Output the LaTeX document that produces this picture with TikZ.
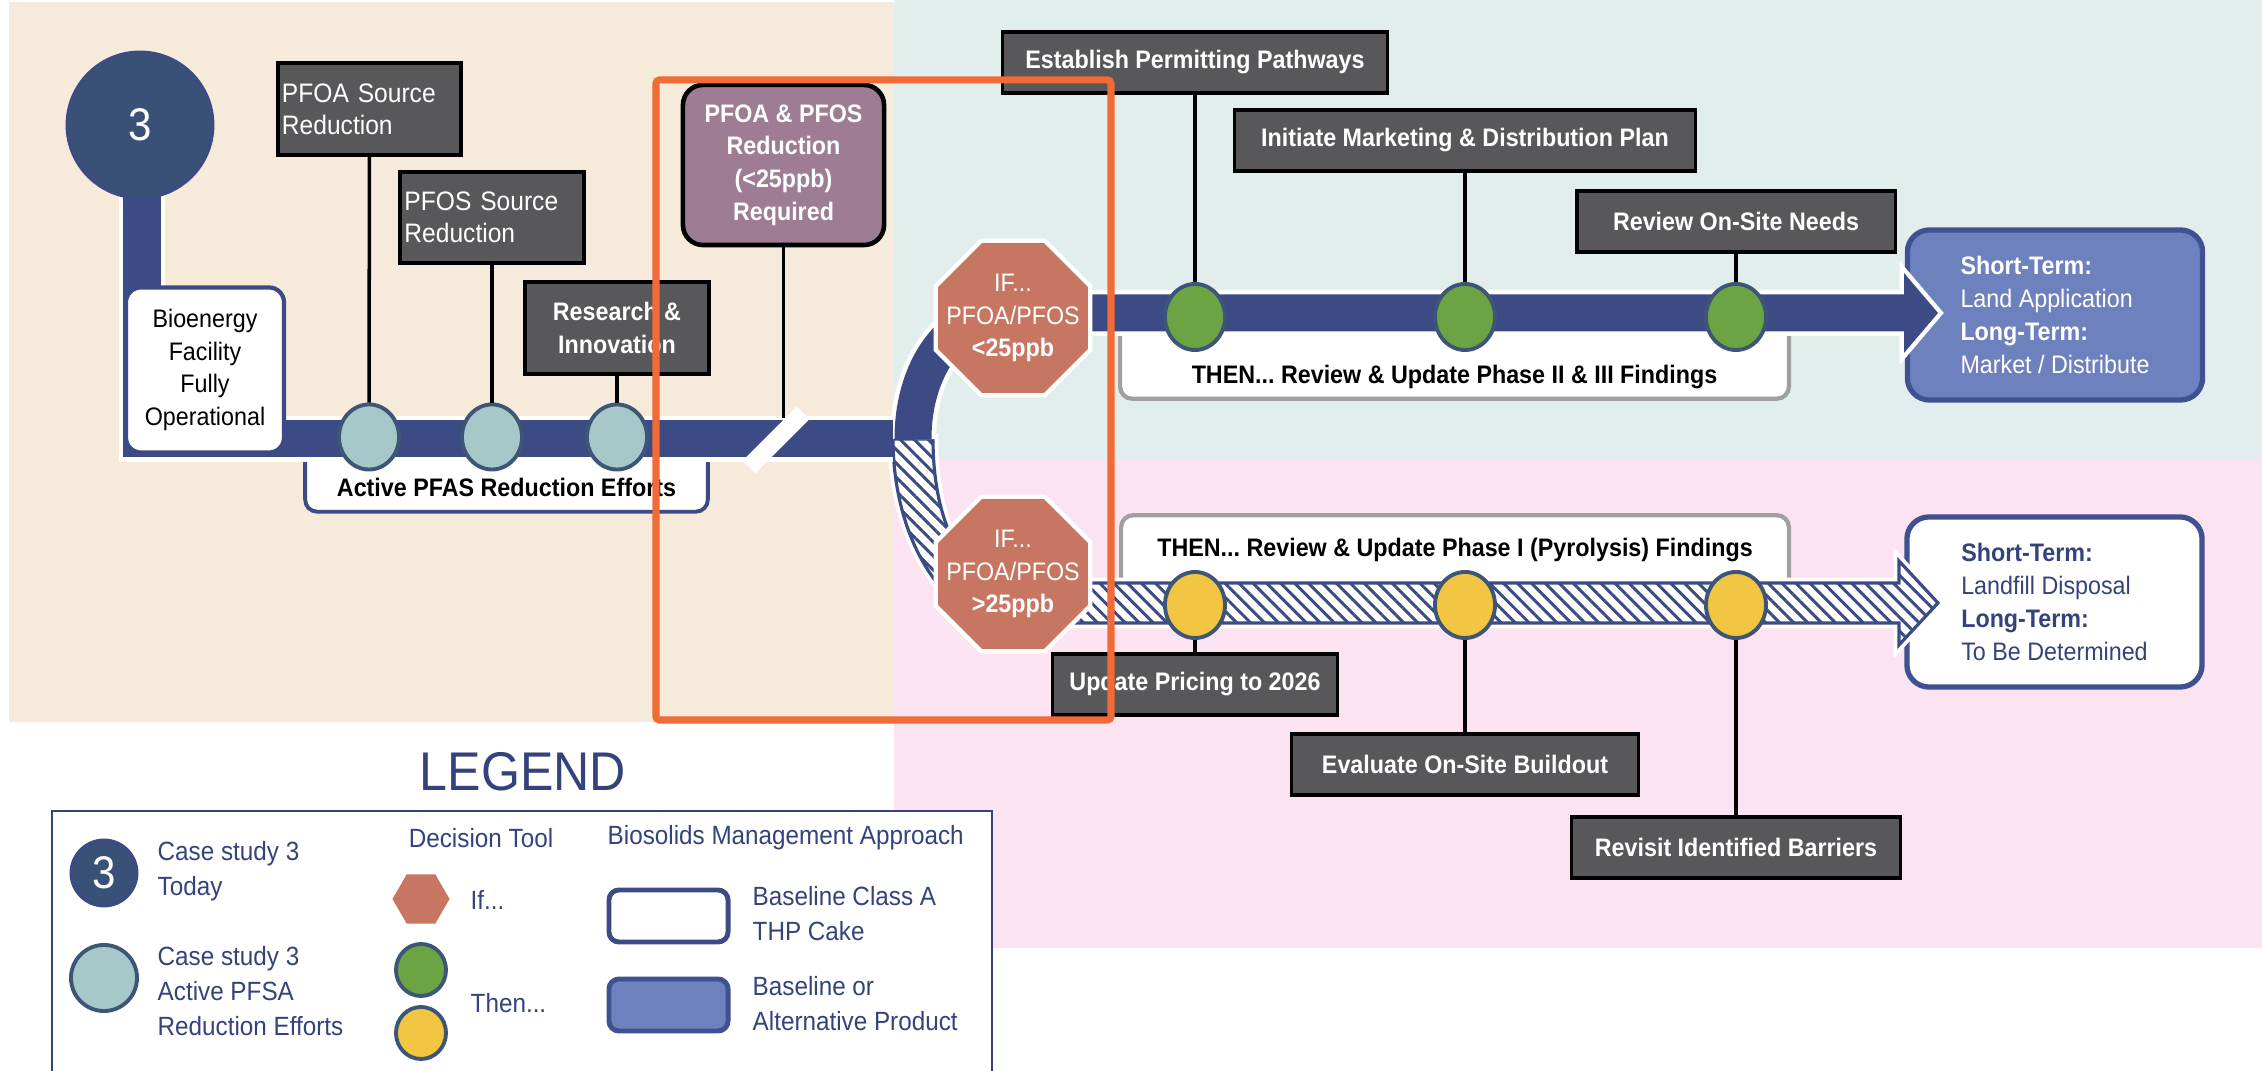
\documentclass[tikz,border=0pt]{standalone}
\usepackage{fontspec}
\setmainfont{Liberation Sans}[FakeStretch=0.92]
\usetikzlibrary{shapes.geometric,patterns.meta}

\definecolor{sand}{HTML}{F6EADA}
\definecolor{mint}{HTML}{E2EEED}
\definecolor{blush}{HTML}{FBE3F1}
\definecolor{navy}{HTML}{3C4B84}
\definecolor{boxgray}{HTML}{58585A}
\definecolor{mauve}{HTML}{9D7C94}
\definecolor{terra}{HTML}{C77761}
\definecolor{leaf}{HTML}{6CA443}
\definecolor{gold}{HTML}{F2C642}
\definecolor{seafoam}{HTML}{A7C8C9}
\definecolor{slate}{HTML}{395176}
\definecolor{dotline}{HTML}{3D5577}
\definecolor{prodblue}{HTML}{6E81BF}
\definecolor{prodline}{HTML}{3F5190}
\definecolor{flame}{HTML}{F26A36}
\definecolor{greyline}{HTML}{A0A0A0}
\definecolor{legnavy}{HTML}{34437C}

\newcommand\boxfont{\fontsize{7.2pt}{9.3pt}\selectfont}
\newcommand\srcfont{\fontsize{7.6pt}{9.2pt}\selectfont}
\newcommand\numfont{\fontsize{13pt}{15pt}\selectfont}
\newcommand\legfont{\fontsize{7.5pt}{10pt}\selectfont}
\newcommand\titlefont{\fontsize{15.5pt}{18pt}\selectfont}
\frenchspacing

\begin{document}
\begin{tikzpicture}[x=0.01cm, y=-0.01cm,
 every node/.style={inner sep=0pt, font=\boxfont},
 gbox/.style={fill=boxgray, draw=black, line width=0.9pt, text=white, font=\boxfont\bfseries, align=center, minimum height=0.61cm},
 stemline/.style={draw=black, line width=1pt},
 stopdot/.style={ellipse, draw=dotline, line width=1.1pt, minimum width=0.6cm, minimum height=0.66cm},
 oct/.style={regular polygon, regular polygon sides=8, minimum size=1.67cm, fill=terra, draw=white, line width=1.2pt},
 octlbl/.style={text=white, align=center},
 trackout/.style={white, line width=0.46cm},
 trackin/.style={navy, line width=0.37cm},
 bracketbox/.style={fill=white, draw=none, rounded corners=0.12cm},
 outbox/.style={line width=1.5pt, rounded corners=0.22cm, minimum width=2.95cm, minimum height=1.7cm, align=left},
 legtxt/.style={text=legnavy, font=\legfont, align=left, anchor=west}]

 \useasboundingbox (0,0) rectangle (2262,1071);
 \fill[white] (0,0) rectangle (2262,1071);
 \fill[sand] (9,2) rectangle (894,722);
 \fill[mint] (894,0) rectangle (2262,460);
 \fill[blush] (894,460) rectangle (2262,948);

 \node[bracketbox, minimum width=4.01cm, minimum height=0.81cm, label={[yshift=-0.17cm, font=\boxfont\bfseries]center:Active PFAS Reduction Efforts}] (act) at (506.5,470.5) {};
 \draw[navy, line width=1.1pt, rounded corners=0.12cm] (act.north west) |- (act.south east) -- (act.north east);
 \node[bracketbox, minimum width=6.67cm, minimum height=0.78cm, label={[yshift=-0.18cm, font=\boxfont\bfseries]center:{THEN... Review \& Update Phase II \& III Findings}}] (thenA) at (1454.5,359) {};
 \draw[greyline, line width=1.2pt, rounded corners=0.12cm] (thenA.north west) |- (thenA.south east) -- (thenA.north east);
 \node[bracketbox, minimum width=6.66cm, minimum height=0.84cm, label={[yshift=0.08cm, font=\boxfont\bfseries]center:{THEN... Review \& Update Phase I (Pyrolysis) Findings}}] (thenB) at (1455,558) {};
 \draw[greyline, line width=1.2pt, rounded corners=0.12cm] (thenB.south west) |- (thenB.north east) -- (thenB.south east);

 \node[outbox, draw=prodline, fill=prodblue, text=white] (outA) at (2055,315) {\textbf{Short-Term:}\\Land Application\\\textbf{Long-Term:}\\Market / Distribute};
 \node[outbox, draw=prodline, fill=white, text=legnavy] (outB) at (2054.5,602) {\textbf{Short-Term:}\\Landfill Disposal\\\textbf{Long-Term:}\\To Be Determined};

 \coordinate (s0) at (142,190);
 \coordinate (s1) at (142,439);
 \coordinate (s2) at (893,439);
 \coordinate (j0) at (913,439);
 \coordinate (u0) at (1010,313);
 \coordinate (u1) at (1904,313);
 \coordinate (tipA) at (1938,313);
 \coordinate (tipB) at (1938,603);

 \draw[navy, line width=0.9pt, preaction={draw=white, line width=3pt}, preaction={fill=white}, pattern={Lines[angle=-45,distance=2.8pt,line width=0.85pt]}, pattern color=navy]
  (893,439) .. controls (893,540) and (945,623) .. (1010,623) -- (1899,623) -- (1899,645) -- (tipB) -- (1899,561) -- (1899,583) -- (1010,583) .. controls (965,583) and (933,525) .. (933,439) -- cycle;

 \draw[trackout] (s0) -- (s1) -- (s2);
 \draw[trackout] (j0) .. controls (913,370) and (950,313) .. (u0) -- (u1);
 \draw[white, line width=2.5pt] (u1) ++(0,-40) -- (tipA) -- ++(-34,40) -- cycle;
 \draw[trackin] (s0) -- (s1) -- (s2);
 \draw[trackin] (j0) .. controls (913,370) and (950,313) .. (u0) -- (u1);
 \fill[navy] (u1) ++(0,-40) -- (tipA) -- ++(-34,40) -- cycle;

 \node[circle, fill=slate, draw=navy, line width=0.8pt, minimum size=1.46cm, text=white, font=\numfont] (caseA) at (140,125) {3};
 \node[draw=navy, line width=1.2pt, fill=white, rounded corners=0.15cm, minimum width=1.58cm, minimum height=1.65cm, align=center] (bio) at (205,370) {Bioenergy\\Facility\\Fully\\Operational};

 \node[gbox, minimum width=1.83cm, minimum height=0.92cm, text width=1.75cm, align=left, font=\srcfont] (pfoa) at (369.5,109) {PFOA Source\\Reduction};
 \node[gbox, minimum width=1.84cm, minimum height=0.91cm, text width=1.75cm, align=left, font=\srcfont] (pfos) at (492,217.5) {PFOS Source\\Reduction};
 \node[gbox, minimum width=1.84cm, minimum height=0.92cm] (resin) at (617,328) {Research \&\\Innovation};
 \node[draw=black, line width=1.3pt, fill=mauve, rounded corners=0.2cm, minimum width=2.01cm, minimum height=1.6cm, text=white, font=\boxfont\bfseries, align=center] (req) at (783.5,165) {PFOA \& PFOS\\Reduction\\(<25ppb)\\Required};
 \coordinate (reqend) at (783.5,418);

 \node[stopdot, fill=seafoam, minimum height=0.65cm] (t1) at (369,437) {};
 \node[stopdot, fill=seafoam, minimum height=0.65cm] (t2) at (492,437) {};
 \node[stopdot, fill=seafoam, minimum height=0.65cm] (t3) at (617,437) {};

 \node[oct, label={[octlbl]center:{IF...\\PFOA/PFOS\\\textbf{<25ppb}}}] (ifLo) at (1013,318) {};
 \node[oct, label={[octlbl]center:{IF...\\PFOA/PFOS\\\textbf{>25ppb}}}] (ifHi) at (1013,574) {};

 \node[stopdot, fill=leaf] (g1) at (1195,317) {};
 \node[stopdot, fill=leaf] (g2) at (1465,317) {};
 \node[stopdot, fill=leaf] (g3) at (1736,317) {};
 \node[stopdot, fill=gold] (y1) at (1195,605) {};
 \node[stopdot, fill=gold] (y2) at (1465,605) {};
 \node[stopdot, fill=gold] (y3) at (1736,605) {};

 \node[gbox, minimum width=3.84cm] (est) at (1195,62.5) {Establish Permitting Pathways};
 \node[gbox, minimum width=4.6cm] (mkt) at (1465,140.5) {Initiate Marketing \& Distribution Plan};
 \node[gbox, minimum width=3.18cm] (need) at (1736,221.5) {Review On-Site Needs};
 \node[gbox, minimum width=2.85cm] (price) at (1195,684.5) {Update Pricing to 2026};
 \node[gbox, minimum width=3.47cm] (build) at (1465,764.5) {Evaluate On-Site Buildout};
 \node[gbox, minimum width=3.29cm] (barr) at (1736,847.5) {Revisit Identified Barriers};

 \draw[stemline] (pfoa) -- (t1);
 \draw[stemline] (pfos) -- (t2);
 \draw[stemline] (resin) -- (t3);
 \draw[stemline] (req.south) -- (reqend);
 \draw[stemline] (est) -- (g1);
 \draw[stemline] (mkt) -- (g2);
 \draw[stemline] (need) -- (g3);
 \draw[stemline] (y1) -- (price);
 \draw[stemline] (y2) -- (build);
 \draw[stemline] (y3) -- (barr);

 \draw[white, line width=0.18cm] (749,467) -- (803,413);

 \draw[flame, line width=2pt, rounded corners=1pt] (656,80) rectangle (1111,720);

 \node[text=legnavy, font=\titlefont] (legend) at (523,772) {LEGEND};
 \node[draw=legnavy, line width=0.7pt, fill=white, minimum width=9.39cm, minimum height=3cm, anchor=north west] (legbox) at (51,810) {};
 \node[circle, fill=slate, draw=navy, line width=0.8pt, minimum size=0.66cm, text=white, font=\numfont] (keyA) at (104,873) {3};
 \node[legtxt] (keyAtxt) at (157,871) {Case study 3\\Today};
 \node[stopdot, fill=seafoam, minimum width=0.66cm, minimum height=0.66cm] (keyB) at (104,978) {};
 \node[legtxt] (keyBtxt) at (157,991) {Case study 3\\Active PFSA\\Reduction Efforts};
 \node[text=legnavy, font=\legfont] (dechead) at (481,838) {Decision Tool};
 \node[regular polygon, regular polygon sides=6, minimum size=0.57cm, fill=terra] (keyIf) at (421,899) {};
 \node[legtxt] (keyIftxt) at (470,900) {If...};
 \node[stopdot, fill=leaf, minimum width=0.5cm, minimum height=0.52cm] (keyG) at (421,970) {};
 \node[stopdot, fill=gold, minimum width=0.5cm, minimum height=0.52cm] (keyY) at (421,1033) {};
 \node[legtxt] (keyThentxt) at (470,1003) {Then...};
 \node[legtxt] (biohead) at (607,838) {Biosolids Management Approach};
 \node[draw=navy, line width=1.4pt, fill=white, rounded corners=0.1cm, minimum width=1.19cm, minimum height=0.52cm] (keyW) at (668.5,916) {};
 \node[draw=prodline, line width=1.4pt, fill=prodblue, rounded corners=0.1cm, minimum width=1.19cm, minimum height=0.52cm] (keyP) at (668.5,1005) {};
 \node[legtxt] (keyWtxt) at (752,913.5) {Baseline Class A\\THP Cake};
 \node[legtxt] (keyPtxt) at (752,1003.5) {Baseline or\\Alternative Product};
\end{tikzpicture}
\end{document}
